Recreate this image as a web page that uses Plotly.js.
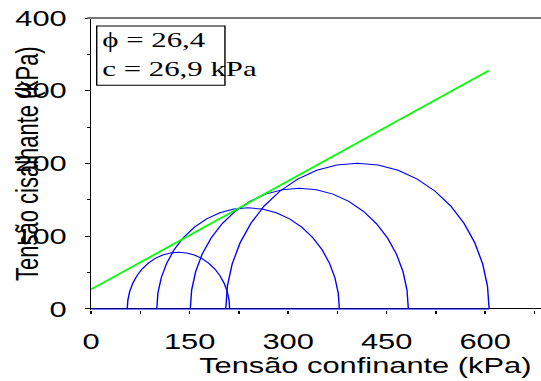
<!DOCTYPE html>
<html>
<head>
<meta charset="utf-8">
<script src="https://cdn.plot.ly/plotly-3.0.1.min.js"></script>
<style>
html, body { margin:0; padding:0; overflow:hidden; background:#ffffff; }
#wrap { width:541px; height:381px; overflow:hidden; }
#chart { width:386px; height:381px; transform: scaleX(1.4016); transform-origin: 0 0; }
</style>
</head>
<body>
<div id="wrap"><div id="chart"></div></div>
<script>
// Mohr circles: minor and major principal stresses (kPa)
var sigma3 = [55, 100, 151, 205];
var sigma1 = [211, 378, 483, 606];
// failure envelope end points (kPa)
var envSigma = [0, 606];
var envTau = [26.9, 328];
// parameter text
var boxLines = ["\u03d5 = 26,4", "c = 26,9 kPa"];
var xTicks = [0, 150, 300, 450, 600];
var yTicks = [0, 100, 200, 300, 400];

var traces = [];
var SEG = 20;
for (var i = 0; i < sigma3.length; i++) {
  var ctr = (sigma1[i] + sigma3[i]) / 2, rad = (sigma1[i] - sigma3[i]) / 2;
  var xs = [], ys = [];
  for (var k = 0; k <= SEG; k++) {
    var a = Math.PI * k / SEG;
    xs.push(ctr + rad * Math.cos(a));
    ys.push(rad * Math.sin(a));
  }
  traces.push({x: xs, y: ys, type: 'scatter', mode: 'lines',
    line: {color: '#0000ff', width: 1}, hoverinfo: 'skip', showlegend: false});
}
traces.push({x: [0, Math.max.apply(null, sigma1)], y: [0, 0], type: 'scatter', mode: 'lines',
  line: {color: '#0000ff', width: 1}, hoverinfo: 'skip', showlegend: false});
traces.push({x: envSigma, y: envTau, type: 'scatter', mode: 'lines',
  line: {color: '#00ff00', width: 1.6}, hoverinfo: 'skip', showlegend: false});

var F = 'Liberation Sans, Arial, sans-serif';
var XR = [0, 685], YR = [-1.4, 400];
var layout = {
  width: 386, height: 381,
  margin: {l: 65, r: 0, t: 18, b: 71},
  paper_bgcolor: '#ffffff', plot_bgcolor: '#ffffff',
  showlegend: false,
  xaxis: {range: XR, tickmode: 'array', tickvals: xTicks, ticktext: xTicks.map(String),
    ticks: 'outside', ticklen: 3.3, tickwidth: 1, tickcolor: '#000',
    minor: {dtick: 75, tick0: 0, ticks: 'outside', ticklen: 3.3, tickwidth: 1, tickcolor: '#000'},
    showline: false, zeroline: false, showgrid: false,
    tickfont: {family: F, size: 22, color: '#000'},
    ticklabelstandoff: 8, ticklabelshift: -3.6, layer: 'above traces', fixedrange: true},
  xaxis2: {range: XR, overlaying: 'x', anchor: 'y', tickmode: 'linear', tick0: 0, dtick: 75,
    ticks: 'inside', ticklen: 3.3, tickwidth: 1, tickcolor: '#000',
    showticklabels: false, showline: false, zeroline: false, showgrid: false, fixedrange: true},
  yaxis: {range: YR, tickmode: 'array', tickvals: yTicks, ticktext: yTicks.map(String),
    ticks: 'outside', ticklen: 3, tickwidth: 1, tickcolor: '#000',
    minor: {dtick: 50, tick0: 0, ticks: 'outside', ticklen: 1.6, tickwidth: 1, tickcolor: '#000'},
    showline: true, linecolor: '#000', linewidth: 1,
    zeroline: true, zerolinecolor: '#000', zerolinewidth: 1, showgrid: false,
    tickfont: {family: F, size: 22, color: '#000'},
    ticklabelstandoff: 9, layer: 'above traces', fixedrange: true},
  yaxis2: {range: YR, overlaying: 'y', anchor: 'x', side: 'left', tickmode: 'linear', tick0: 0, dtick: 100,
    ticks: 'inside', ticklen: 3, tickwidth: 1, tickcolor: '#000',
    showticklabels: false, showline: false, zeroline: false, showgrid: false, fixedrange: true},
  shapes: [
    {type: 'line', xref: 'paper', yref: 'paper', x0: -0.008, x1: 1, y0: 1, y1: 1,
      line: {color: '#777777', width: 2}},
    {type: 'rect', xref: 'paper', yref: 'paper', x0: 0.0125, x1: 0.2975, y0: 0.770, y1: 0.9727,
      line: {color: '#000000', width: 1}, fillcolor: 'rgba(0,0,0,0)'}
  ],
  annotations: [
    {text: 'Tensão confinante (kPa)', xref: 'paper', yref: 'paper', x: 0.6087, y: -0.1904,
      xanchor: 'center', yanchor: 'middle', showarrow: false,
      font: {family: F, size: 22, color: '#000'}},
    {text: 'Tensão cisalhante (kPa)', xref: 'paper', yref: 'paper', x: -0.1417, y: 0.5017,
      xanchor: 'center', yanchor: 'middle', textangle: -90, showarrow: false,
      font: {family: F, size: 22, color: '#000'}},
    {text: boxLines.join('<br>'), xref: 'paper', yref: 'paper', x: 0.0196, y: 0.877,
      xanchor: 'left', yanchor: 'middle', align: 'left', showarrow: false,
      font: {family: 'Liberation Serif, Times New Roman, serif', size: 22, color: '#000'}}
  ]
};

Plotly.newPlot('chart', traces, layout, {staticPlot: true, displayModeBar: false});
</script>
</body>
</html>
